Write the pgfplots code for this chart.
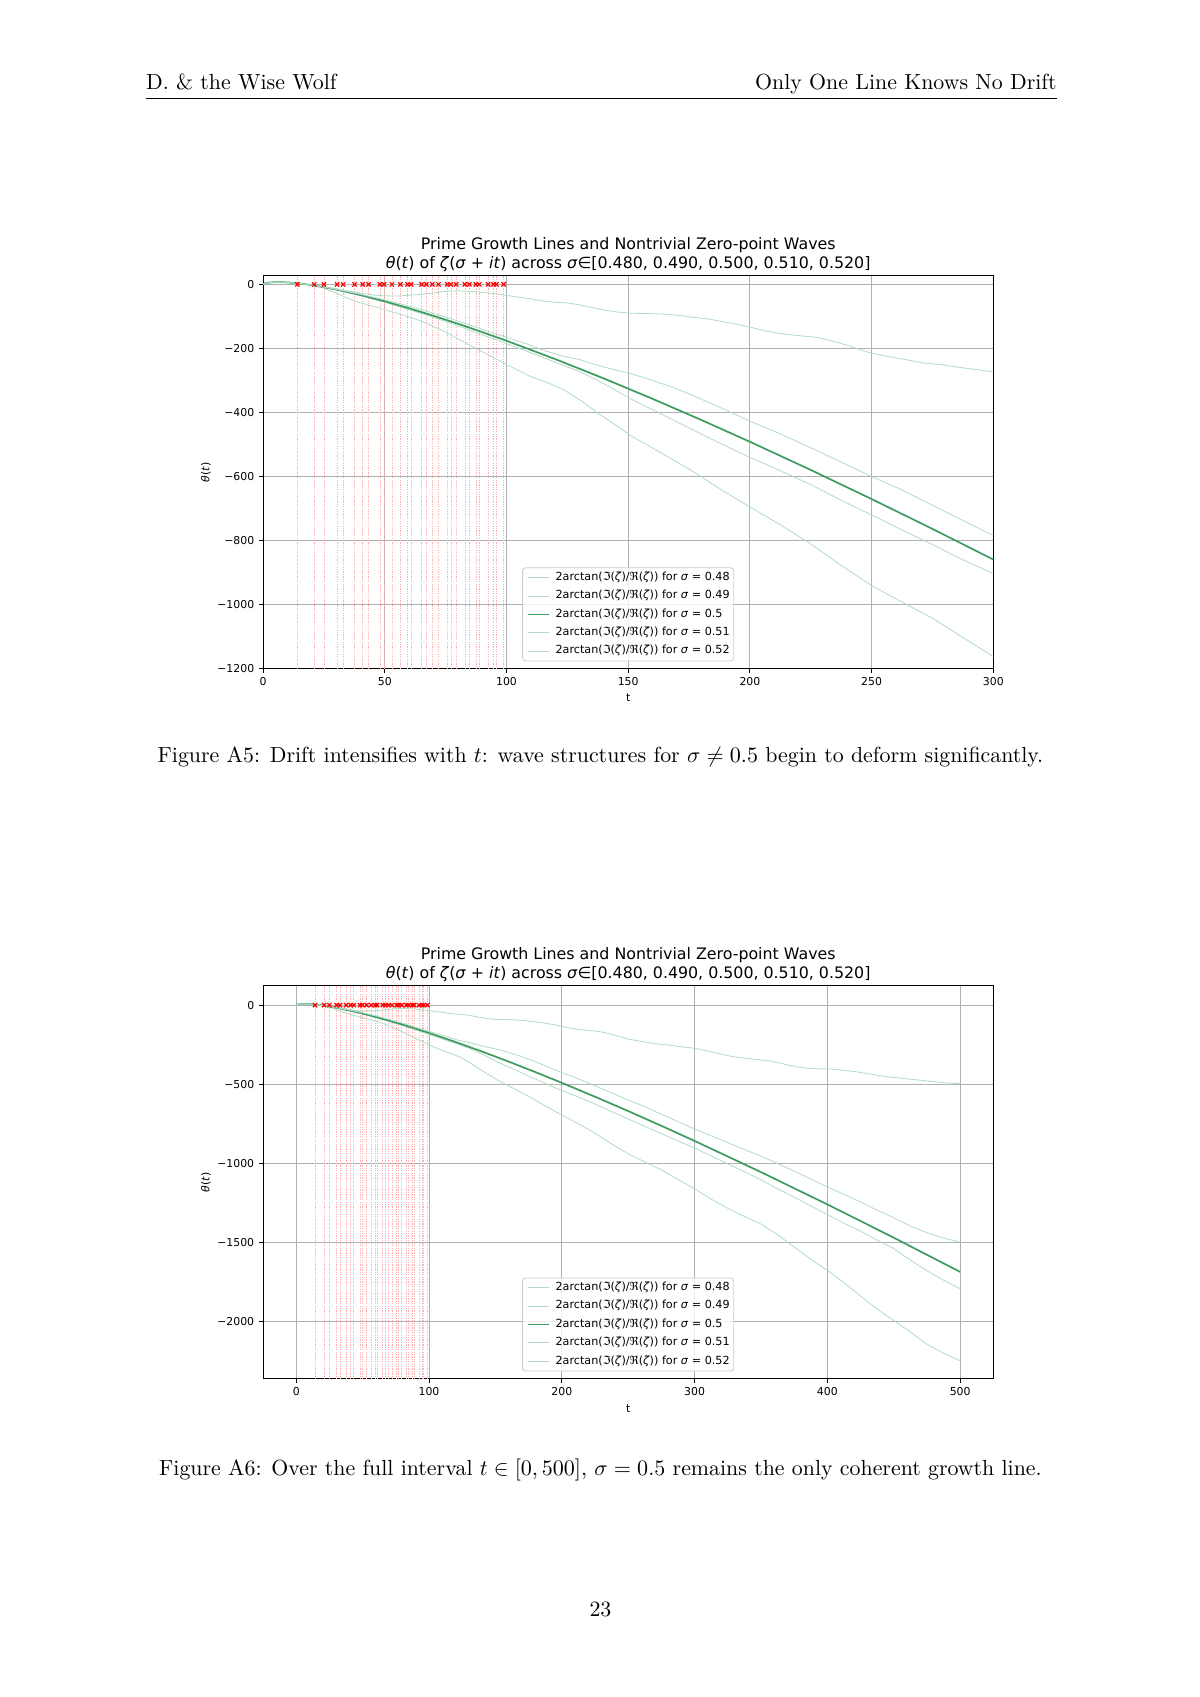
\documentclass[border=0pt]{standalone}
\usepackage{fontspec}
\usepackage{pgfplots}
\usepackage{pgfplotstable}
\pgfplotsset{compat=1.18}
\newfontfamily\dejavu{DejaVu Sans}
\definecolor{gridc}{RGB}{176,176,176}
\definecolor{mainc}{RGB}{62,156,96}
\definecolor{faintc}{RGB}{176,219,200}
\definecolor{zeroc}{RGB}{255,175,175}
\definecolor{legc}{RGB}{204,204,204}
\newcommand\tfont{\dejavu\fontsize{5.4}{6.5}\selectfont}
\newcommand\lfont{\dejavu\fontsize{5.55}{6.5}\selectfont}
\newcommand\ttlfont{\dejavu\fontsize{7.85}{9}\selectfont}
\newcommand\pfont{\fontsize{10.85}{13.5}\selectfont}

% sigma = 0.5
\pgfplotstableread{
t y
0 0
0.5 2.3
1 3.54
2 5.05
3 5.99
4 6.58
5 6.92
6.28 7.06
8 6.85
10 6.13
12 5.02
14 3.57
16 1.83
18 -0.16
20 -2.37
25 -8.74
30 -16.12
35 -24.33
40 -33.26
50 -52.92
60 -74.60
70 -97.96
80 -122.75
90 -148.79
100 -175.94
120 -233.17
140 -293.74
160 -357.18
180 -423.13
200 -491.30
225 -579.32
250 -670.11
275 -763.41
300 -858.99
350 -1056.24
400 -1260.65
450 -1471.33
500 -1687.58
}\mainT

% top curve
\pgfplotstableread{
t y
0 0
2 5.05
5 6.92
10 6.13
15 2.7
20 -2
25 -8
30 -15
35 -21
40 -27
45 -33
48 -35
52 -36
56 -36
60 -34
65 -31
70 -27
75 -22
80 -20
85 -22
90 -25
95 -29
100 -34
105 -40
110 -45
115 -52
120 -56
125 -58
130 -64
135 -72
140 -80
145 -86
151 -90
158 -91
165 -93
170 -96
176 -102
183 -108
190 -118
195 -125
200 -133
206 -145
213 -154
220 -160
227 -165
233 -175
240 -190
245 -203
250 -215
256 -224
262 -232
271 -245
278 -250
285 -258
292 -265
300 -273
308 -287
315 -300
322 -314
328 -324
335 -333
343 -340
350 -347
358 -355
364 -366
370 -378
377 -390
383 -398
390 -401
396 -403
403 -404
409 -409
415 -415
422 -422
428 -430
434 -438
440 -447
447 -455
454 -461
462 -468
470 -475
478 -482
485 -488
492 -493
500 -497
}\aT

% curve above sigma=0.5
\pgfplotstableread{
t y
0 0
2 5.05
5 6.92
10 6.13
15 2.7
20 -2.4
25 -8.5
30 -15.5
40 -31
50 -48
60 -68
70 -90
80 -114
90 -140
100 -165
108 -185
115 -205
122 -222
130 -235
140 -258
151.7 -280
160 -300
168 -320
176 -345
188 -385
200 -427
212 -465
225 -510
237 -553
250 -600
262 -640
275 -690
287 -735
300 -784
312 -825
325 -870
337 -912
350 -955
362 -1000
375 -1050
387 -1098
400 -1150
412 -1195
425 -1245
437 -1295
450 -1345
462 -1395
475 -1440
487 -1472
500 -1500
}\bT

% curve below sigma=0.5
\pgfplotstableread{
t y
0 0
2 5.05
5 6.92
10 6.13
15 2.7
20 -2.6
25 -9.5
30 -17.5
40 -35
50 -56
60 -79
70 -103
80 -129
90 -157
100 -185
115 -228
130 -272
140 -310
151.7 -360
165 -410
176 -452
188 -497
200 -540
212 -580
225 -625
237 -672
250 -720
262 -765
275 -812
287 -858
300 -903
312 -952
325 -1005
337 -1052
350 -1105
362 -1160
375 -1215
387 -1268
400 -1325
412 -1378
425 -1430
437 -1485
450 -1540
462 -1610
475 -1680
487 -1738
500 -1794
}\cT

% bottom curve
\pgfplotstableread{
t y
0 0
2 5.05
5 6.92
10 6.13
15 2.5
20 -3
24 -9
30 -28
38 -53
44 -66
50 -79
58 -97
65.5 -116
74 -145
82 -178
90 -210
100 -250
110 -288
118 -310
124 -331
131 -365
138 -404
145 -440
151.7 -475
164 -528
176 -581
188 -640
200 -695
212 -748
225 -810
237 -875
250 -940
262 -990
275 -1042
287 -1100
300 -1162
312 -1225
325 -1285
337 -1335
350 -1385
362 -1450
375 -1530
387 -1605
400 -1678
412 -1752
425 -1840
437 -1920
450 -1995
462 -2065
475 -2145
487 -2200
500 -2250
}\dT

% nontrivial zeros (markers)
\pgfplotstableread{
t y
14.1347 0
21.0220 0
25.0109 0
30.4249 0
32.9351 0
37.5862 0
40.9187 0
43.3271 0
48.0052 0
49.7738 0
52.9703 0
56.4462 0
59.3470 0
60.8318 0
65.1125 0
67.0798 0
69.5464 0
72.0672 0
75.7047 0
77.1448 0
79.3374 0
82.9104 0
84.7355 0
87.4253 0
88.8091 0
92.4919 0
94.6513 0
95.8706 0
98.8312 0
}\zT

% vertical lines through the zeros
\pgfplotstableread{
t y
14.1347 -5000
14.1347 5000
14.1347 nan
21.0220 -5000
21.0220 5000
21.0220 nan
25.0109 -5000
25.0109 5000
25.0109 nan
30.4249 -5000
30.4249 5000
30.4249 nan
32.9351 -5000
32.9351 5000
32.9351 nan
37.5862 -5000
37.5862 5000
37.5862 nan
40.9187 -5000
40.9187 5000
40.9187 nan
43.3271 -5000
43.3271 5000
43.3271 nan
48.0052 -5000
48.0052 5000
48.0052 nan
49.7738 -5000
49.7738 5000
49.7738 nan
52.9703 -5000
52.9703 5000
52.9703 nan
56.4462 -5000
56.4462 5000
56.4462 nan
59.3470 -5000
59.3470 5000
59.3470 nan
60.8318 -5000
60.8318 5000
60.8318 nan
65.1125 -5000
65.1125 5000
65.1125 nan
67.0798 -5000
67.0798 5000
67.0798 nan
69.5464 -5000
69.5464 5000
69.5464 nan
72.0672 -5000
72.0672 5000
72.0672 nan
75.7047 -5000
75.7047 5000
75.7047 nan
77.1448 -5000
77.1448 5000
77.1448 nan
79.3374 -5000
79.3374 5000
79.3374 nan
82.9104 -5000
82.9104 5000
82.9104 nan
84.7355 -5000
84.7355 5000
84.7355 nan
87.4253 -5000
87.4253 5000
87.4253 nan
88.8091 -5000
88.8091 5000
88.8091 nan
92.4919 -5000
92.4919 5000
92.4919 nan
94.6513 -5000
94.6513 5000
94.6513 nan
95.8706 -5000
95.8706 5000
95.8706 nan
98.8312 -5000
98.8312 5000
98.8312 nan
}\vT

\pgfplotsset{
 chart/.style={
  scale only axis, width=362.3pt, height=195pt, anchor=north west,
  grid=major, major grid style={gridc, line width=0.45pt},
  axis line style={line width=0.45pt, black},
  tick align=outside, tick pos=left, major tick length=2pt,
  tick style={line width=0.45pt, black},
  tick label style={font=\tfont},
  xticklabel style={inner sep=0pt, yshift=-2.2pt},
  yticklabel style={inner sep=0pt, xshift=-2.2pt},
  unbounded coords=jump,
  legend cell align=left,
  legend style={at={(0.5,0.019)}, anchor=south, font=\lfont, draw=legc,
    rounded corners=1.5pt, fill=white, fill opacity=0.8, text opacity=1,
    inner xsep=1pt, inner ysep=1pt, row sep=1.3pt,
    nodes={inner sep=1pt, text height=4.3pt, text depth=1.5pt}},
  legend image code/.code={\path (-1.2pt,0pt) (12.3pt,0pt); \draw[##1] (0pt,0pt) -- (10.7pt,0pt);},
 },
 faint/.style={faintc, line width=0.4pt},
 mainl/.style={mainc, line width=0.85pt},
 zline/.style={zeroc, line width=0.3pt, dash pattern=on 0.6pt off 0.6pt, forget plot},
 zmark/.style={only marks, mark=x, red, mark size=1.5pt, mark options={line width=0.6pt, solid}, forget plot},
}

\newcommand\legtext[1]{2arctan(ℑ(\textit{ζ})/ℜ(\textit{ζ})) for \textit{σ} = #1}

\begin{document}
\begin{tikzpicture}
\path[use as bounding box] (0,0) rectangle (595.28pt,-841.89pt);

% header
\node[anchor=base west, inner sep=0, font=\pfont] at (72.27pt,-44.6pt) {D.\ \& the Wise Wolf};
\node[anchor=base east, inner sep=0, font=\pfont] at (524.4pt,-44.6pt) {Only One Line Knows No Drift};
\draw[line width=0.4pt] (72.27pt,-48.6pt) -- (524.4pt,-48.6pt);

% ---------- chart 1 ----------
\begin{axis}[chart, name=ax1, at={(130.5pt,-136.8pt)},
  xmin=0, xmax=300, ymin=-1200, ymax=27,
  xtick={0,50,100,150,200,250,300}, xticklabels={0,50,100,150,200,250,300},
  ytick={-1200,-1000,-800,-600,-400,-200,0},
  yticklabels={−1200,−1000,−800,−600,−400,−200,0}]
\addplot[zline] table[x=t,y=y] {\vT};
\addplot[faint] table[x=t,y=y] {\dT};
\addlegendentry{\legtext{0.48}}
\addplot[faint] table[x=t,y=y] {\cT};
\addlegendentry{\legtext{0.49}}
\addplot[mainl] table[x=t,y=y] {\mainT};
\addlegendentry{\legtext{0.5}}
\addplot[faint] table[x=t,y=y] {\bT};
\addlegendentry{\legtext{0.51}}
\addplot[faint] table[x=t,y=y] {\aT};
\addlegendentry{\legtext{0.52}}
\addplot[zmark] table[x=t,y=y] {\zT};
\end{axis}
\node[anchor=base, inner sep=0, font=\ttlfont] at ([yshift=13.2pt]ax1.north) {Prime Growth Lines and Nontrivial Zero-point Waves};
\node[anchor=base, inner sep=0, font=\ttlfont] at ([yshift=3.8pt]ax1.north) {\textit{θ}(\textit{t}) of \textit{ζ}(\textit{σ} + \textit{it}) across \textit{σ}∈[0.480, 0.490, 0.500, 0.510, 0.520]};
\node[rotate=90, inner sep=0, font=\tfont] at ([xshift=-28.3pt]ax1.west) {\textit{θ}(\textit{t})};
\node[inner sep=0, font=\tfont] at ([yshift=-14.5pt]ax1.south) {t};

\node[anchor=base, inner sep=0, font=\pfont] at (297.9pt,-378.3pt) {Figure A5: Drift intensifies with $t$: wave structures for $\sigma \neq 0.5$ begin to deform significantly.};

% ---------- chart 2 ----------
\begin{axis}[chart, name=ax2, at={(130.5pt,-489.1pt)},
  xmin=-25, xmax=525, ymin=-2365, ymax=122,
  xtick={0,100,200,300,400,500}, xticklabels={0,100,200,300,400,500},
  ytick={-2000,-1500,-1000,-500,0},
  yticklabels={−2000,−1500,−1000,−500,0}]
\addplot[zline] table[x=t,y=y] {\vT};
\addplot[faint] table[x=t,y=y] {\dT};
\addlegendentry{\legtext{0.48}}
\addplot[faint] table[x=t,y=y] {\cT};
\addlegendentry{\legtext{0.49}}
\addplot[mainl] table[x=t,y=y] {\mainT};
\addlegendentry{\legtext{0.5}}
\addplot[faint] table[x=t,y=y] {\bT};
\addlegendentry{\legtext{0.51}}
\addplot[faint] table[x=t,y=y] {\aT};
\addlegendentry{\legtext{0.52}}
\addplot[zmark] table[x=t,y=y] {\zT};
\end{axis}
\node[anchor=base, inner sep=0, font=\ttlfont] at ([yshift=13.2pt]ax2.north) {Prime Growth Lines and Nontrivial Zero-point Waves};
\node[anchor=base, inner sep=0, font=\ttlfont] at ([yshift=3.8pt]ax2.north) {\textit{θ}(\textit{t}) of \textit{ζ}(\textit{σ} + \textit{it}) across \textit{σ}∈[0.480, 0.490, 0.500, 0.510, 0.520]};
\node[rotate=90, inner sep=0, font=\tfont] at ([xshift=-28.3pt]ax2.west) {\textit{θ}(\textit{t})};
\node[inner sep=0, font=\tfont] at ([yshift=-14.5pt]ax2.south) {t};

\node[anchor=base, inner sep=0, font=\pfont] at (297.9pt,-731.8pt) {Figure A6: Over the full interval $t \in [0, 500]$, $\sigma = 0.5$ remains the only coherent growth line.};

\node[anchor=base, inner sep=0, font=\pfont] at (297.9pt,-802pt) {23};
\end{tikzpicture}
\end{document}
